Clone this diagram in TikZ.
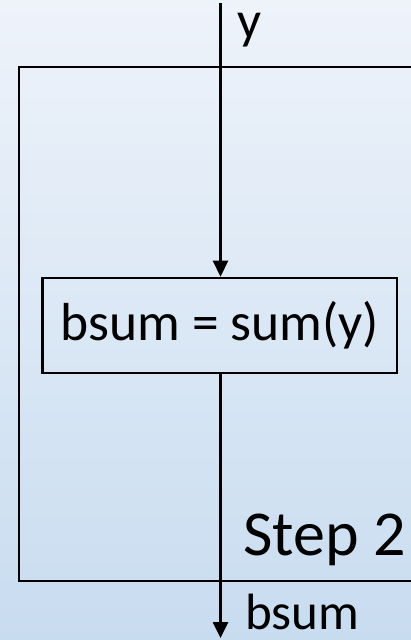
\documentclass[tikz,border=0pt]{standalone}
\usepackage{fontspec}
\setmainfont{Carlito}
\usetikzlibrary{arrows.meta}
\definecolor{bgtop}{RGB}{238,243,250}
\definecolor{bgbot}{RGB}{200,220,240}
\tikzset{
  wire/.style={line width=2.6pt, draw=black},
  flow/.style={wire, -{Triangle[length=16pt,width=15pt]}},
  stepbox/.style={wire, rectangle, inner sep=0pt},
  lbl/.style={inner sep=0pt, font=\fontsize{51}{60}\selectfont},
}
\begin{document}
\begin{tikzpicture}[x=1pt,y=-1pt]
  \useasboundingbox (0,0) rectangle (411,640);
  \clip (0,0) rectangle (411,640);
  \shade[top color=bgtop, bottom color=bgbot] (0,0) rectangle (411,640);

  % outer step frame, running off the right edge
  \node[stepbox, minimum width=420pt, minimum height=514pt, anchor=north west]
    (frame) at (17.5,65.5) {};

  % processing block
  \node[stepbox, minimum width=354.5pt, minimum height=95pt,
        font=\fontsize{53.5}{64}\selectfont]
    (calc) at (219.8,325.5) {bsum = sum(y)};

  % input and output of the step
  \coordinate (in) at (220.5,3);
  \coordinate (out) at (220.5,638);
  \draw[flow] (in) -- (calc.north -| in);
  \draw[flow] (calc.south -| out) -- (out);

  \node[lbl, anchor=base west, font=\fontsize{53}{60}\selectfont] (ylbl) at (237,38) {y};
  \node[lbl, anchor=base west] (bsumlbl) at (245,629) {bsum};
  \node[lbl, anchor=base east, font=\fontsize{64}{76}\selectfont] (steplbl) at (406,555) {Step 2};
\end{tikzpicture}
\end{document}
